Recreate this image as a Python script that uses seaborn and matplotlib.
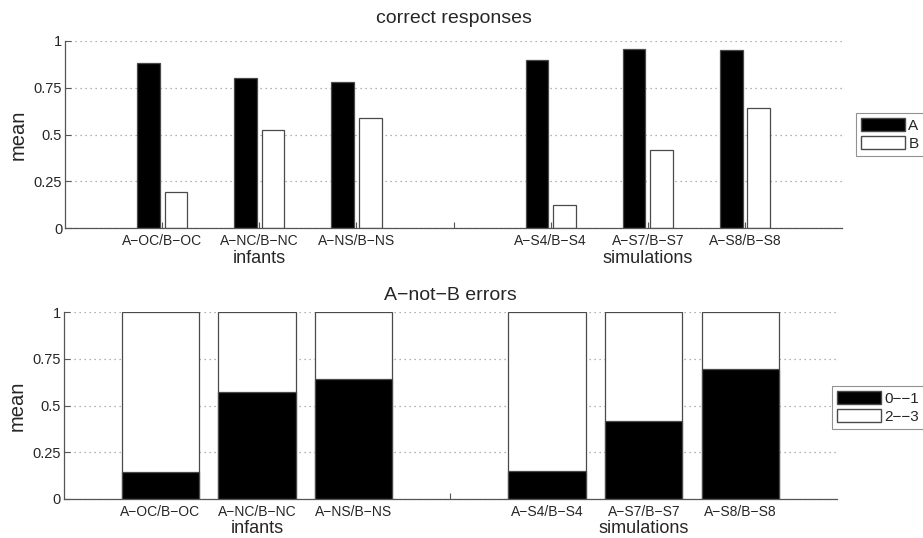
"""
Correct responses and A-not-B errors: infants vs. simulations.
"""

import pandas as pd
import matplotlib
matplotlib.use('Agg')
import matplotlib.pyplot as plt
import seaborn as sns
from matplotlib.patches import Patch
from matplotlib.transforms import blended_transform_factory

# Dados
positions = [1, 2, 3, 5, 6, 7]
conditions = ['A−OC/B−OC', 'A−NC/B−NC', 'A−NS/B−NS',
              'A−S4/B−S4', 'A−S7/B−S7', 'A−S8/B−S8']
correct_a = [0.88, 0.80, 0.78, 0.90, 0.955, 0.95]
correct_b = [0.195, 0.525, 0.59, 0.125, 0.415, 0.64]
errors_01 = [0.145, 0.573, 0.645, 0.148, 0.418, 0.697]
errors_23 = [0.855, 0.427, 0.355, 0.852, 0.582, 0.303]
groups = ['infants', 'simulations']
group_pos = [2, 6]
yticks = [0, 0.25, 0.5, 0.75, 1]
ytick_labels = ['0', '0.25', '0.5', '0.75', '1']

sns.set_theme(style='white')
plt.rcParams['font.family'] = ['Liberation Sans', 'DejaVu Sans']
plt.rcParams['xtick.direction'] = 'in'
plt.rcParams['ytick.direction'] = 'in'

EDGE = '#4a4a4a'
AXIS = '#555555'


def style_axis(ax, title, title_pad):
    """Aparência estilo MATLAB: grade pontilhada, sem caixa."""
    ax.set_xlim(0, 8)
    ax.set_ylim(0, 1)
    ax.set_yticks(yticks)
    ax.set_yticklabels(ytick_labels, fontsize=10.5)
    ticks = [1, 2, 3, 4, 5, 6, 7]
    labels = conditions[:3] + [''] + conditions[3:]
    ax.set_xticks(ticks)
    ax.set_xticklabels(labels, fontsize=10)
    ax.tick_params(axis='both', bottom=True, left=True, length=4, width=0.8,
                   color=AXIS)
    ax.tick_params(axis='x', pad=4)
    ax.tick_params(axis='y', pad=2)
    ax.yaxis.grid(True, linestyle=(0, (1, 3)), color='#9a9a9a', linewidth=0.9)
    ax.xaxis.grid(False)
    ax.set_axisbelow(True)
    sns.despine(ax=ax)
    for side in ['left', 'bottom']:
        ax.spines[side].set_color(AXIS)
        ax.spines[side].set_linewidth(0.9)
    ax.set_xlabel('')
    ax.set_ylabel('mean', fontsize=14.5, labelpad=4)
    ax.set_title(title, fontsize=14, pad=title_pad)
    trans = blended_transform_factory(ax.transData, ax.transAxes)
    for g, gp in zip(groups, group_pos):
        ax.text(gp, -0.115, g, transform=trans, ha='center', va='top', fontsize=13)


fig = plt.figure(figsize=(9.23, 5.38), dpi=100)
ax1 = fig.add_axes([0.0704, 0.576, 0.842, 0.348])
ax2 = fig.add_axes([0.069, 0.0725, 0.838, 0.347])

# Respostas corretas (barras agrupadas)
df_correct = pd.DataFrame({
    'pos': positions * 2,
    'response': ['A'] * len(positions) + ['B'] * len(positions),
    'value': correct_a + correct_b,
})
sns.barplot(data=df_correct, x='pos', y='value', hue='response', native_scale=True,
            width=0.57, gap=0.18, palette={'A': 'black', 'B': 'white'},
            edgecolor=EDGE, linewidth=0.9, saturation=1, errorbar=None,
            legend=False, ax=ax1)
style_axis(ax1, 'correct responses', 13)

# Erros A-não-B (barras empilhadas)
df_err = pd.DataFrame({
    'pos': positions,
    'e01': errors_01,
    'total': [a + b for a, b in zip(errors_01, errors_23)],
})
sns.barplot(data=df_err, x='pos', y='total', native_scale=True, width=0.8,
            color='white', edgecolor=EDGE, linewidth=0.9, saturation=1,
            errorbar=None, ax=ax2)
sns.barplot(data=df_err, x='pos', y='e01', native_scale=True, width=0.8,
            color='black', edgecolor=EDGE, linewidth=0.9, saturation=1,
            errorbar=None, ax=ax2)
style_axis(ax2, 'A−not−B errors', 9)

# Legendas fora dos eixos
leg_kw = dict(loc='upper left', frameon=True, fancybox=False, fontsize=11,
              handlelength=2.9, handleheight=0.9, borderpad=0.35,
              labelspacing=0.2, handletextpad=0.2, borderaxespad=0)
h1 = [Patch(facecolor='black', edgecolor=EDGE, label='A'),
      Patch(facecolor='white', edgecolor=EDGE, label='B')]
l1 = fig.legend(handles=h1, bbox_to_anchor=(0.927, 0.79), **leg_kw)
h2 = [Patch(facecolor='black', edgecolor=EDGE, label='0−−1'),
      Patch(facecolor='white', edgecolor=EDGE, label='2−−3')]
l2 = fig.legend(handles=h2, bbox_to_anchor=(0.901, 0.2825), **leg_kw)
for leg in (l1, l2):
    leg.get_frame().set_edgecolor('#777777')
    leg.get_frame().set_linewidth(0.8)

fig.savefig('out.png', dpi=100)
